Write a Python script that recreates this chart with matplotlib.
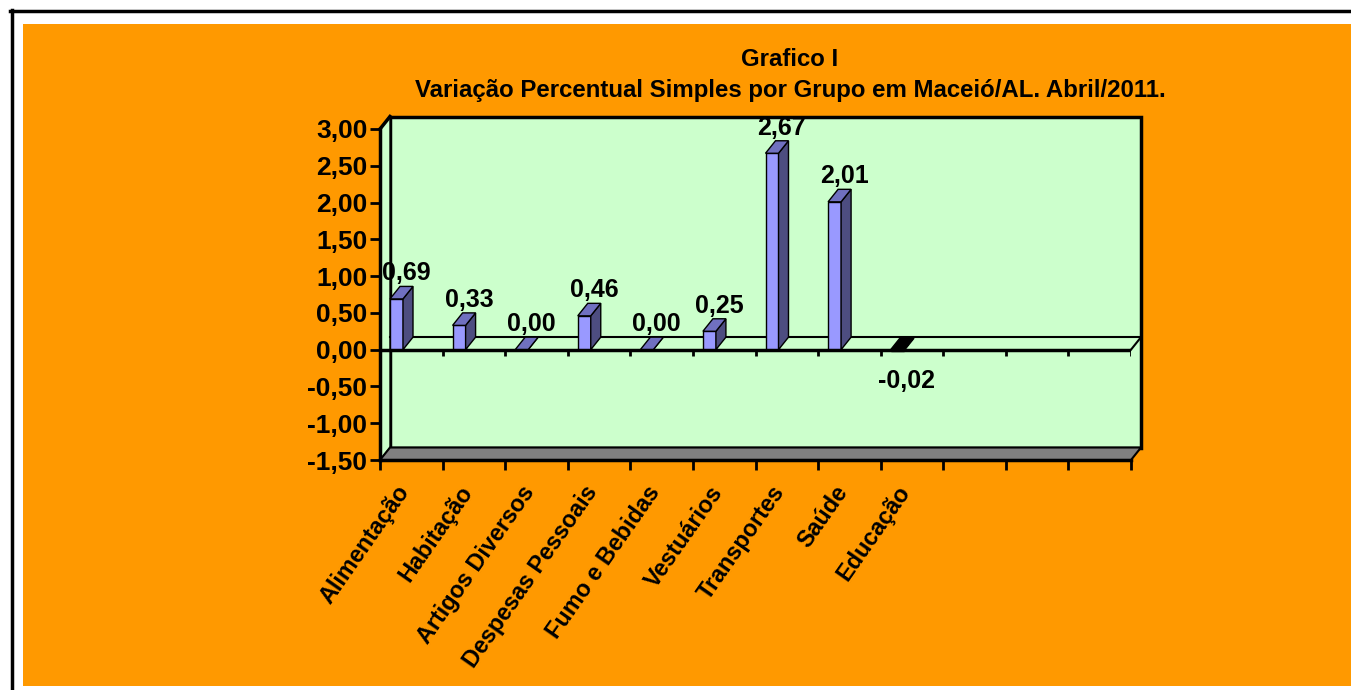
import matplotlib.pyplot as plt
from matplotlib.patches import Polygon, Rectangle
from matplotlib.lines import Line2D

categorias = ["Alimentação", "Habitação", "Artigos Diversos", "Despesas Pessoais",
              "Fumo e Bebidas", "Vestuários", "Transportes", "Saúde", "Educação"]
variacao = [0.69, 0.33, 0.00, 0.46, 0.00, 0.25, 2.67, 2.01, -0.02]
n_slots = 12
y_ticks = [3.0, 2.5, 2.0, 1.5, 1.0, 0.5, 0.0, -0.5, -1.0, -1.5]

W, H = 1351, 690
plt.rcParams['font.family'] = ['Liberation Sans', 'DejaVu Sans']
plt.rcParams['font.weight'] = 'bold'


def fx(px):
    return px / W


def fy(px):
    return 1 - px / H


def br(v):
    return f"{v:.2f}".replace(".", ",")


fig = plt.figure(figsize=(W / 100, H / 100), dpi=100)
fig.patch.set_facecolor("white")
fig.add_artist(Rectangle((fx(23), fy(686)), fx(1351) - fx(23), fy(24) - fy(686),
                         transform=fig.transFigure, facecolor="#FF9900",
                         edgecolor="none", zorder=-10))
fig.add_artist(Line2D([fx(10), 1], [fy(11), fy(11)], color="black", lw=2.5))
fig.add_artist(Line2D([fx(11.5), fx(11.5)], [fy(10), 0], color="black", lw=2.5))

fig.text(fx(790), fy(60), "Grafico I", ha="center", va="center", fontsize=17.3)
fig.text(fx(790), fy(91), "Variação Percentual Simples por Grupo em Maceió/AL. Abril/2011.",
         ha="center", va="center", fontsize=17.3)

ax = fig.add_axes([fx(380), fy(460), fx(1131) - fx(380), fy(129) - fy(460)])
ax.set_xlim(0, n_slots)
ax.set_ylim(-1.5, 3.0)
ax.patch.set_visible(False)

# 3d offset (depth) in data units
dx = 10 / (751 / n_slots)
dy = 12.5 / (331 / 4.5)
ymin, ymax = -1.5, 3.0

# back wall
ax.add_patch(Rectangle((dx, ymin + dy), n_slots, ymax - ymin, facecolor="#CCFFCC",
                       edgecolor="black", lw=2.5, zorder=1, clip_on=False))
# side wall
ax.add_patch(Polygon([(0, ymin), (dx, ymin + dy), (dx, ymax + dy), (0, ymax)],
                     facecolor="#CCFFCC", edgecolor="black", lw=1, zorder=1, clip_on=False))
# floor
ax.add_patch(Polygon([(0, ymin), (n_slots, ymin), (n_slots + dx, ymin + dy), (dx, ymin + dy)],
                     facecolor="#808080", edgecolor="black", lw=1.5, zorder=1.5, clip_on=False))
ax.plot([0, dx], [ymax, ymax + dy], color="black", lw=2.5, zorder=2, clip_on=False)

# zero plane
ax.plot([dx, n_slots + dx], [dy, dy], color="black", lw=1.5, zorder=2, clip_on=False)
ax.plot([n_slots, n_slots + dx], [0, dy], color="black", lw=1.5, zorder=2, clip_on=False)

# bars
bw = 13 / (751 / n_slots)
off = 10 / (751 / n_slots)
for i, v in enumerate(variacao):
    x0 = i + off
    x1 = x0 + bw
    if v < 0:
        cf = cs = ct = "black"
    else:
        cf, cs, ct = "#9999FF", "#4D4D80", "#7070C0"
    ax.add_patch(Rectangle((x0, min(0, v)), bw, abs(v), facecolor=cf,
                           edgecolor="black", lw=1, zorder=3))
    ax.add_patch(Polygon([(x1, min(0, v)), (x1, max(0, v)), (x1 + dx, max(0, v) + dy),
                          (x1 + dx, min(0, v) + dy)],
                         facecolor=cs, edgecolor="black", lw=1, zorder=3))
    top = max(0, v)
    ax.add_patch(Polygon([(x0, top), (x1, top), (x1 + dx, top + dy), (x0 + dx, top + dy)],
                         facecolor=ct, edgecolor="black", lw=1, zorder=3))
    if v < 0:
        ax.text(i + 0.42, v - 0.41, br(v), ha="center", va="center", fontsize=18, zorder=5)
    else:
        ax.text(i + 0.42, v + dy + 0.18, br(v), ha="center", va="center", fontsize=18, zorder=5)

# front zero line and its ticks
ax.plot([0, n_slots], [0, 0], color="black", lw=2.5, zorder=4)
ax.vlines(range(n_slots + 1), -0.09, 0, color="black", lw=2, zorder=4)

# axes
for s in ["top", "right"]:
    ax.spines[s].set_visible(False)
ax.spines["left"].set_linewidth(2.5)
ax.spines["bottom"].set_linewidth(2.5)
ax.spines["left"].set_zorder(4)
ax.spines["bottom"].set_zorder(4)
ax.set_yticks(y_ticks)
ax.set_yticklabels([br(t) for t in y_ticks], fontsize=19)
ax.set_xticks(range(n_slots + 1))
ax.set_xticklabels([])
ax.tick_params(axis="both", direction="out", length=7, width=2, pad=2)

for i, c in enumerate(categorias):
    ax.text(i + 0.5 - 0.1, ymin - 0.38, c, rotation=55, rotation_mode="anchor",
            ha="right", va="center", fontsize=16.8, clip_on=False)

fig.savefig("out.png", dpi=100)
